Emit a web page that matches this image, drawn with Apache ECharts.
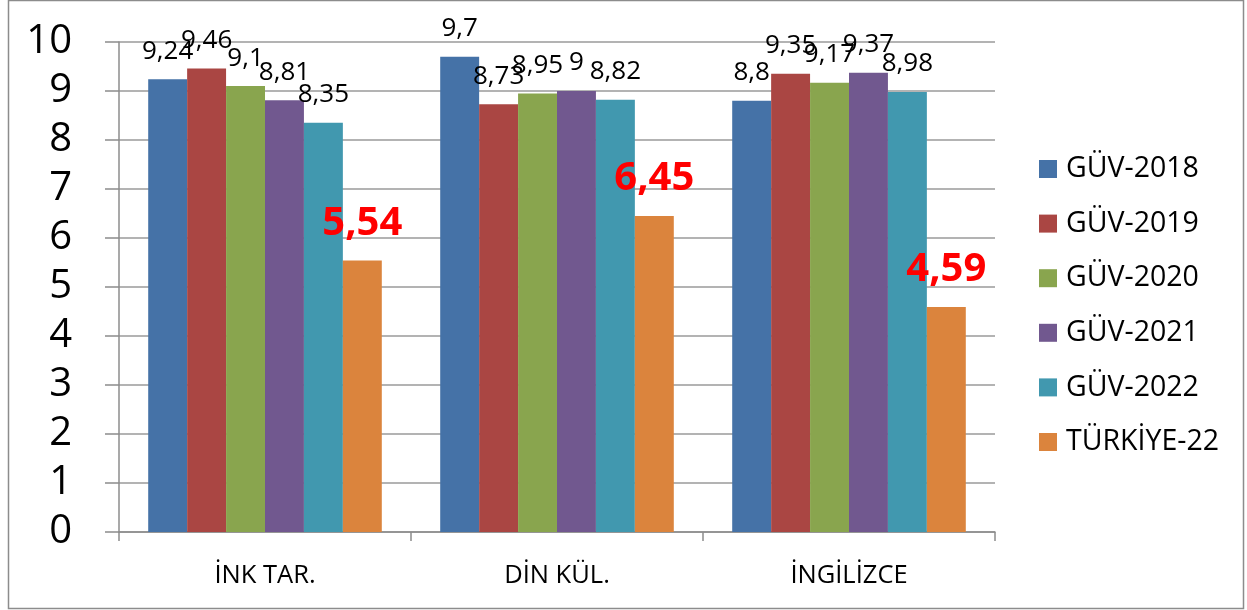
<!DOCTYPE html>
<html>
<head>
<meta charset="utf-8">
<script src="https://cdn.jsdelivr.net/npm/echarts@6/dist/echarts.min.js"></script>
<style>
  html, body { margin: 0; padding: 0; background: #fff; }
  #chart { width: 1247px; height: 610px; }
</style>
</head>
<body>
<div id="chart"></div>
<script>
// categories and series
const categories = ['İNK TAR.', 'DİN KÜL.', 'İNGİLİZCE'];
const seriesNames = ['GÜV-2018', 'GÜV-2019', 'GÜV-2020', 'GÜV-2021', 'GÜV-2022', 'TÜRKİYE-22'];
const guv2018 = [9.24, 9.7, 8.8];
const guv2019 = [9.46, 8.73, 9.35];
const guv2020 = [9.1, 8.95, 9.17];
const guv2021 = [8.81, 9, 9.37];
const guv2022 = [8.35, 8.82, 8.98];
const turkiye22 = [5.54, 6.45, 4.59];
const yTicks = [0, 10, 1]; // min, max, interval

const colors = ['#4572A7', '#AA4643', '#89A54E', '#71588F', '#4198AF', '#DB843D'];
const allData = [guv2018, guv2019, guv2020, guv2021, guv2022, turkiye22];
const fontFamily = '"Open Sans", "Noto Sans", sans-serif';

// virgüllü ondalık
const fmt = p => String(p.value).replace('.', ',');

const series = allData.map((d, i) => {
  const last = i === allData.length - 1;
  return {
    name: seriesNames[i],
    type: 'bar',
    data: d,
    barGap: '0%',
    barCategoryGap: '20%',
    itemStyle: { color: colors[i] },
    label: {
      show: true,
      position: 'top',
      distance: last ? 17 : 15,
      formatter: fmt,
      fontFamily: fontFamily,
      fontSize: last ? 40 : 26,
      fontWeight: last ? 'bold' : 'normal',
      color: last ? '#ff0000' : '#000'
    },
    animation: false
  };
});

const chart = echarts.init(document.getElementById('chart'));
chart.setOption({
  backgroundColor: '#fff',
  animation: false,
  graphic: [{
    type: 'rect',
    shape: { x: 8.5, y: 0.5, width: 1235, height: 608 },
    style: { fill: 'none', stroke: '#8c8c8c', lineWidth: 1.5 },
    silent: true
  }],
  grid: { left: 119, right: 252, top: 42, bottom: 78 },
  legend: {
    orient: 'vertical',
    left: 1039,
    top: 153,
    padding: 0,
    itemWidth: 18,
    itemHeight: 18,
    itemGap: 22.6,
    icon: 'rect',
    textStyle: { fontFamily: fontFamily, fontSize: 28.5, color: '#000', lineHeight: 32, padding: [0, 0, 0, 4] },
    data: seriesNames
  },
  xAxis: {
    type: 'category',
    data: categories,
    axisLine: { lineStyle: { color: '#8c8c8c', width: 1.5 } },
    axisTick: { show: true, length: 9, lineStyle: { color: '#8c8c8c', width: 1.5 } },
    axisLabel: { margin: 31, fontFamily: fontFamily, fontSize: 25.5, color: '#000' }
  },
  yAxis: {
    type: 'value',
    min: yTicks[0],
    max: yTicks[1],
    interval: yTicks[2],
    axisLine: { show: true, lineStyle: { color: '#8c8c8c', width: 1.5 } },
    axisTick: { show: true, length: 14, lineStyle: { color: '#8c8c8c', width: 1.5 } },
    splitLine: { lineStyle: { color: '#9a9a9a', width: 1.5 } },
    axisLabel: { margin: 47, fontFamily: fontFamily, fontSize: 40, color: '#000' }
  },
  series: series
});
</script>
</body>
</html>
